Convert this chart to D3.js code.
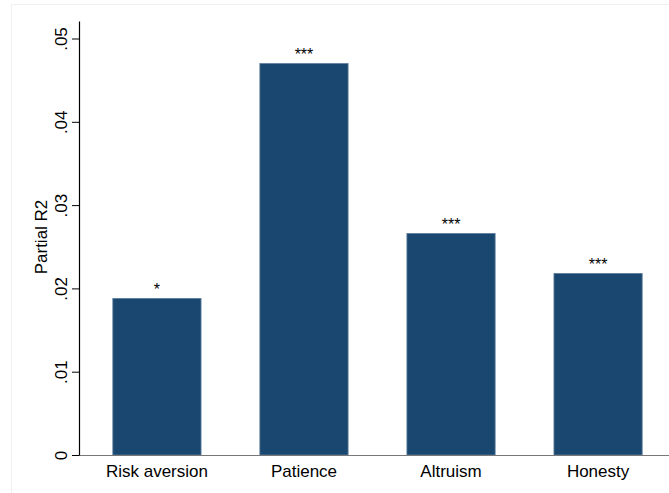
<!DOCTYPE html>
<html>
<head>
<meta charset="utf-8">
<script src="https://cdn.jsdelivr.net/npm/d3@7"></script>
<style>
  body { margin: 0; background: #fff; }
  svg { display: block; font-family: "Liberation Sans", Arial, sans-serif; }
</style>
</head>
<body>
<svg id="chart" width="669" height="493"></svg>
<script>
// data
var categories = ["Risk aversion", "Patience", "Altruism", "Honesty"];
var values = [0.0188, 0.0470, 0.0266, 0.0218];
var stars = ["*", "***", "***", "***"];
var yTicks = [0, 0.01, 0.02, 0.03, 0.04, 0.05];
var yTickLabels = ["0", ".01", ".02", ".03", ".04", ".05"];

var svg = d3.select("#chart");
var width = 669, height = 493;

// faint outer frame like the stata graph region
svg.append("rect")
    .attr("x", 11.5).attr("y", 4.5)
    .attr("width", width).attr("height", height)
    .attr("fill", "none")
    .attr("stroke", "#f0f0f0");

var x = d3.scaleBand()
    .domain(categories)
    .range([79, 676])
    .paddingInner(0.4)
    .paddingOuter(0.23);

var y = d3.scaleLinear()
    .domain([0, 0.05])
    .range([455, 38.5]);

// bars
svg.selectAll("rect.bar")
    .data(values)
    .enter().append("rect")
    .attr("class", "bar")
    .attr("x", function(d, i) { return x(categories[i]); })
    .attr("y", function(d) { return y(d); })
    .attr("width", x.bandwidth())
    .attr("height", function(d) { return y(0) - y(d); })
    .attr("fill", "#1a476f")
    .attr("stroke", "#5f7f9e")
    .attr("stroke-width", 0.8);

// significance stars
svg.selectAll("text.star")
    .data(values)
    .enter().append("text")
    .attr("class", "star")
    .attr("x", function(d, i) { return x(categories[i]) + x.bandwidth() / 2; })
    .attr("y", function(d) { return y(d) - 3; })
    .attr("text-anchor", "middle")
    .attr("font-size", 16)
    .attr("fill", "#000")
    .text(function(d, i) { return stars[i]; });

// x axis (gray baseline, no ticks)
var xAxis = svg.append("g")
    .attr("transform", "translate(0," + y(0) + ")")
    .call(d3.axisBottom(x).tickSize(0).tickPadding(10));
xAxis.select(".domain").attr("stroke", "#777").attr("stroke-width", 1.2)
    .attr("d", "M79,0.5H669");
xAxis.selectAll("text").attr("font-size", 17).attr("fill", "#000")
    .attr("font-family", "Liberation Sans, Arial, sans-serif");

// y axis
var yAxis = svg.append("g")
    .attr("transform", "translate(79,0)")
    .call(d3.axisLeft(y).tickValues(yTicks)
        .tickFormat(function(d, i) { return yTickLabels[i]; })
        .tickSize(7).tickSizeOuter(0));
yAxis.select(".domain").attr("stroke", "#000").attr("stroke-width", 1.2)
    .attr("d", "M0.5," + (y(0) + 0.5) + "V" + (y(0.05) - 17));
yAxis.selectAll(".tick line").attr("stroke", "#000");
yAxis.selectAll(".tick text")
    .attr("font-size", 17)
    .attr("fill", "#000")
    .attr("font-family", "Liberation Sans, Arial, sans-serif")
    .attr("text-anchor", "middle")
    .attr("transform", "rotate(-90)")
    .attr("x", 0)
    .attr("y", -12)
    .attr("dy", 0);

// y axis title
svg.append("text")
    .attr("transform", "translate(47,237) rotate(-90)")
    .attr("text-anchor", "middle")
    .attr("font-size", 17)
    .attr("fill", "#000")
    .text("Partial R2");
</script>
</body>
</html>
